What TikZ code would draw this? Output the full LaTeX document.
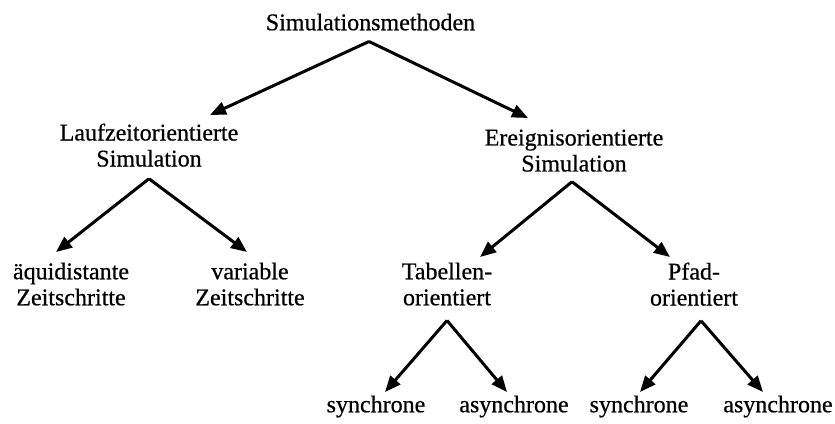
\documentclass[tikz,border=0pt]{standalone}
\usepackage{fontspec}
\setmainfont[FakeBold=0.6]{Liberation Serif}
\usetikzlibrary{arrows.meta}
\begin{document}
\begin{tikzpicture}[x=1pt,y=-1pt,
  lbl/.style={inner sep=0pt,outer sep=0pt,align=center,anchor=north,
    font=\fontsize{24}{26}\selectfont},
  arr/.style={line width=3pt,line join=miter,
    -{Triangle[length=16pt,width=13pt]}}]
\useasboundingbox (0,0) rectangle (835,423);
% tree labels (north anchor = top of first text line)
\node[lbl] (root) at (370.5,13.6) {Simulationsmethoden};
\node[lbl] (lauf) at (149,123.6) {Laufzeitorientierte\\Simulation};
\node[lbl] (ereig) at (574,129.6) {Ereignisorientierte\\Simulation};
\node[lbl] (aequi) at (71,262.6) {äquidistante\\Zeitschritte};
\node[lbl] (vari) at (250,262.6) {variable\\Zeitschritte};
\node[lbl] (tab) at (447,262.6) {Tabellen-\\orientiert};
\node[lbl] (pfad) at (694,262.6) {Pfad-\\orientiert};
\node[lbl] (tsyn) at (376,395.6) {synchrone};
\node[lbl] (tasy) at (514,395.6) {asynchrone};
\node[lbl] (psyn) at (639,395.6) {synchrone};
\node[lbl] (pasy) at (778,395.6) {asynchrone};
% branches
\draw[arr] ([xshift=-1.5pt,yshift=-11pt]root.south) -- ([xshift=61pt,yshift=8.6pt]lauf.north);
\draw[arr] ([xshift=-1.5pt,yshift=-11pt]root.south) -- ([xshift=-46pt,yshift=11.6pt]ereig.north);
\draw[arr] ([yshift=-12pt]lauf.south) -- ([xshift=-15pt,yshift=10.6pt]aequi.north);
\draw[arr] ([yshift=-12pt]lauf.south) -- ([xshift=-3pt,yshift=10.6pt]vari.north);
\draw[arr] ([xshift=-2pt,yshift=-10pt]ereig.south) -- ([xshift=33pt,yshift=5.6pt]tab.north);
\draw[arr] ([xshift=-2pt,yshift=-10pt]ereig.south) -- ([xshift=-24pt,yshift=5.6pt]pfad.north);
\draw[arr] ([yshift=-15pt]tab.south) -- ([xshift=9pt,yshift=3.6pt]tsyn.north);
\draw[arr] ([yshift=-15pt]tab.south) -- ([xshift=-7pt,yshift=3.6pt]tasy.north);
\draw[arr] ([xshift=7pt,yshift=-15pt]pfad.south) -- ([xshift=1pt,yshift=3.6pt]psyn.north);
\draw[arr] ([xshift=7pt,yshift=-15pt]pfad.south) -- ([xshift=-15pt,yshift=3.6pt]pasy.north);
\end{tikzpicture}
\end{document}
